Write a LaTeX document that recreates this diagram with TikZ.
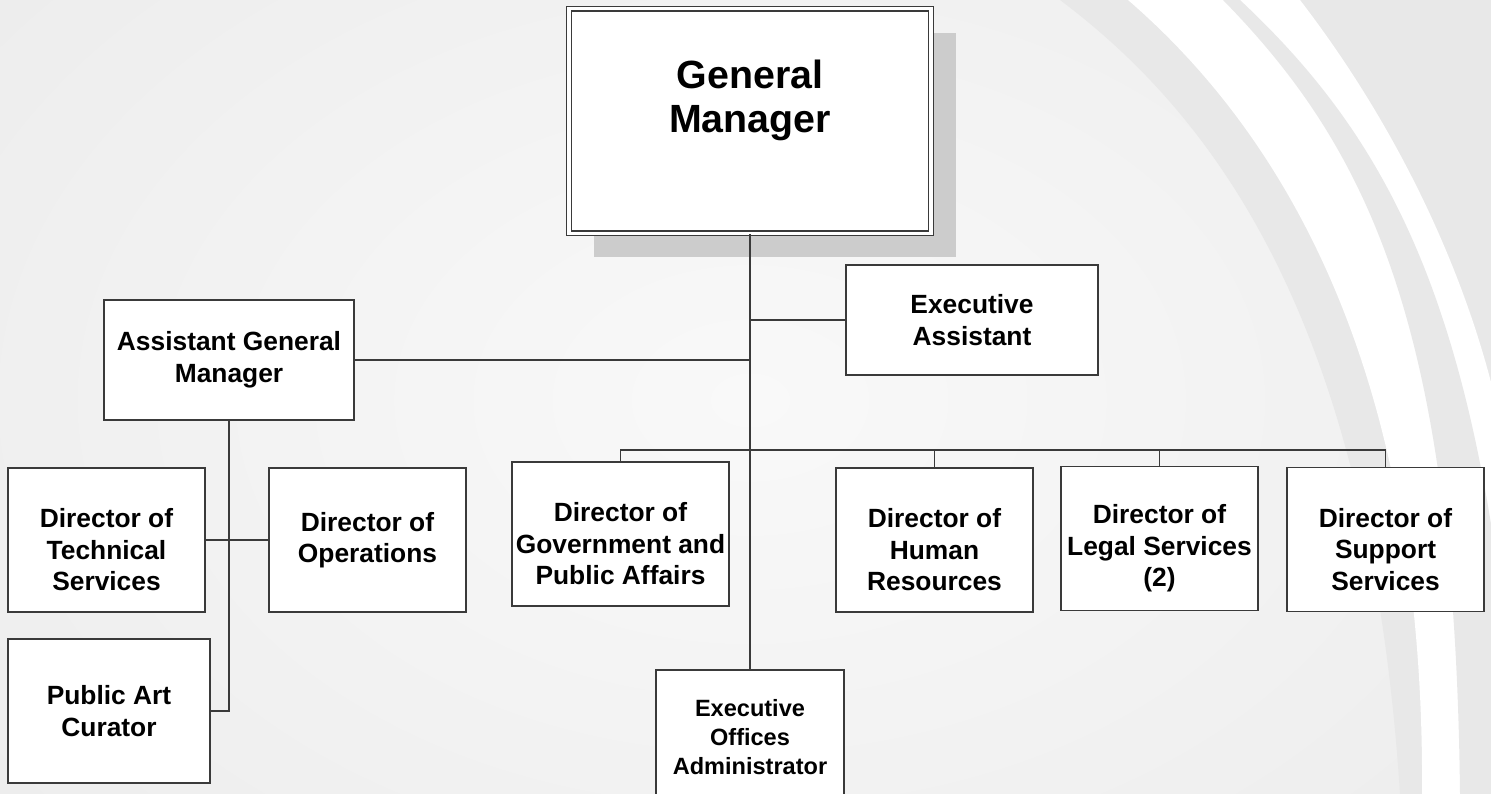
\documentclass[tikz,border=0pt]{standalone}
\usepackage{fontspec}
\setmainfont{Liberation Sans}
\usetikzlibrary{shadows}
\definecolor{bgin}{HTML}{F9F9F9}
\definecolor{bgout}{HTML}{EDEDED}
\definecolor{band}{HTML}{E8E8E8}
\definecolor{shadegray}{HTML}{CCCCCC}
\definecolor{edge}{HTML}{3A3A3A}
\newcommand{\lowline}{\rule{0pt}{22pt}}
\tikzset{
  box/.style={draw=edge, line width=0.75pt, fill=white, inner sep=0pt, align=center,
    font=\fontsize{15}{18}\selectfont\bfseries, minimum width=3.94cm, minimum height=2.88cm},
  link/.style={draw=edge, line width=0.8pt}
}
\begin{document}
\begin{tikzpicture}[x=0.02cm, y=-0.02cm]
\useasboundingbox (0,0) rectangle (1491,794);
\begin{scope}
\clip (0,0) rectangle (1491,794);
\shade[inner color=bgin, outer color=bgout] (-200,-250) rectangle (1700,1050);
\fill[band] (1060,0) .. controls (1220,120) and (1370,330) .. (1400,794) -- (1600,794) -- (1600,0) -- cycle;
\fill[white] (1128,0) .. controls (1290,140) and (1425,380) .. (1422,794) -- (1600,794) -- (1500,420) .. controls (1470,280) and (1400,130) .. (1300,0) -- cycle;
\fill[band] (1223,0) .. controls (1370,150) and (1455,330) .. (1460,794) -- (1520,794) .. controls (1490,330) and (1400,150) .. (1240,0) -- cycle;
\end{scope}

\node[box, double=white, double distance=2.2pt, line width=0.6pt, minimum width=7.24cm, minimum height=4.5cm,
  font=\fontsize{22.4}{25}\selectfont\bfseries, execute at end node={\rule[-28pt]{0pt}{1pt}},
  drop shadow={shadow xshift=0.5cm, shadow yshift=-0.48cm, opacity=1, fill=shadegray}] (gm) at (750,121) {General\\Manager};
\node[box, minimum width=5.04cm, minimum height=2.2cm] (ea) at (972,320) {Executive\\Assistant};
\node[box, minimum width=5cm, minimum height=2.4cm] (agm) at (229,360) {Assistant General\\Manager};
\node[box] (tech) at (106.5,540) {\lowline Director of\\Technical\\Services};
\node[box] (ops) at (367.5,540) {Director of\\Operations};
\node[box, minimum width=4.04cm] (cur) at (109,711) {Public Art\\Curator};
\node[box, minimum width=4.34cm] (gov) at (620.5,534) {\lowline Director of\\Government and\\Public Affairs};
\node[box] (hr) at (934.5,540) {\lowline Director of\\Human\\Resources};
\node[box] (legal) at (1159.5,538.5) {\lowline Director of\\Legal Services\\(2)};
\node[box] (sup) at (1385.5,539.5) {\lowline Director of\\Support\\Services};
\node[box, minimum width=3.76cm, minimum height=2.68cm, font=\fontsize{13.4}{16.4}\selectfont\bfseries] (eoa) at (750,737) {Executive\\Offices\\Administrator};

\coordinate (bus) at (750,450);
\draw[link] (gm.south) -- (eoa.north);
\draw[link] (ea.west) -- (ea.west -| gm.south);
\draw[link] (agm.east) -- (agm.east -| gm.south);
\draw[link] (gov.north) |- (bus) -| (sup.north);
\foreach \n in {hr,legal} \draw[link] (\n.north) -- (\n.north |- bus);
\draw[link] (agm.south) |- (cur.east);
\draw[link] (tech.east) -- (ops.west);
\end{tikzpicture}
\end{document}
